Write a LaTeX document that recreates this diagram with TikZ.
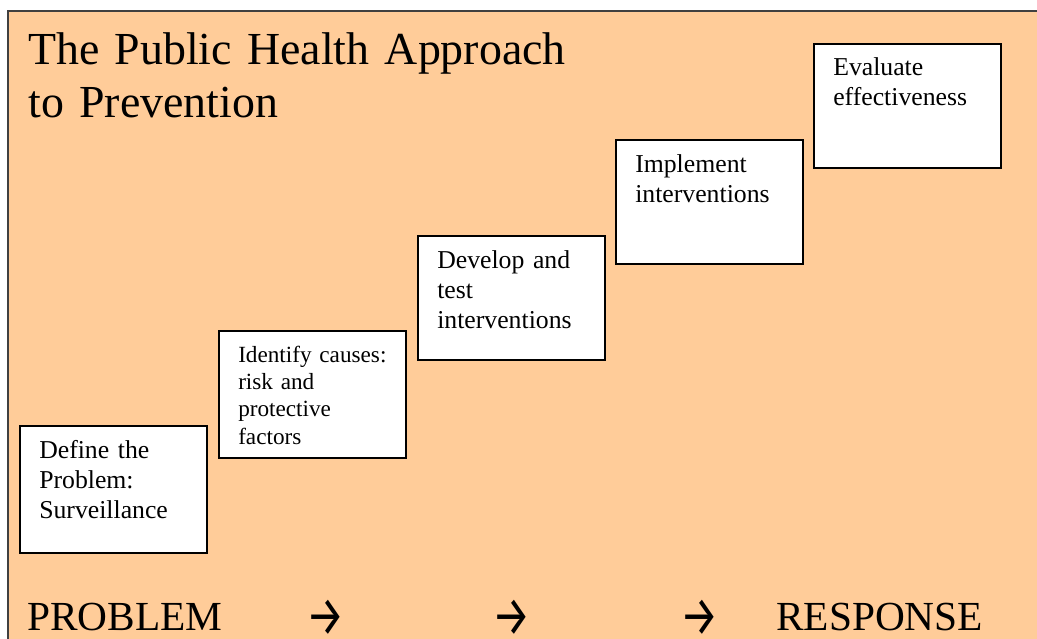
\documentclass[tikz,border=0pt]{standalone}
\usepackage{fontspec}
\setmainfont{Liberation Serif}
\newfontfamily\arrowfont{Fira Sans}
\usepackage{xcolor}
\usepackage{graphicx}
\usetikzlibrary{calc}
\definecolor{peach}{HTML}{FFCC99}

\begin{document}
\begin{tikzpicture}[x=0.75pt,y=-0.75pt,
    stepbox/.style={draw=black,line width=1.5pt,fill=white,anchor=north west,inner sep=0pt,minimum width=140.25pt,minimum height=93pt},
    steptext/.style={anchor=base west,inner sep=0pt,text width=135pt,align=left,font=\fontsize{19.3}{22.5}\selectfont},
    bottomtext/.style={anchor=base west,inner sep=0pt,font=\fontsize{31}{34}\selectfont},
    arrowtext/.style={anchor=center,inner sep=0pt,font=\arrowfont\fontsize{32}{34}\selectfont}]

                    \useasboundingbox (0,0) rectangle (1037,638);
                    \fill[peach] (8,11) rectangle (1045,650);
                    \draw[line width=1.5pt,black!75] (8,11) rectangle (1045,650);

                    \node[anchor=base west,inner sep=0pt,text width=560pt,align=left,font=\fontsize{34.4}{40}\selectfont] (title) at (28,64.5) {The Public Health Approach\\to Prevention};

                    \node[stepbox, minimum height=95pt] (1) at (19,425) {};
                    \node[stepbox, minimum height=95pt] (2) at (218,330) {};
                    \node[stepbox] (3) at (417,235) {};
                    \node[stepbox] (4) at (615,139) {};
                    \node[stepbox] (5) at (813,43) {};

                    \node[steptext] (1t) at ($(1.north west)+(20,33)$) {Define the\\Problem:\\Surveillance};
                    \node[steptext, font=\fontsize{17.4}{20.6}\selectfont] (2t) at ($(2.north west)+(20,32)$) {Identify causes:\\risk and\\protective\\factors};
                    \node[steptext] (3t) at ($(3.north west)+(20,33)$) {Develop and\\test\\interventions};
                    \node[steptext] (4t) at ($(4.north west)+(20,33)$) {Implement\\interventions};
                    \node[steptext] (5t) at ($(5.north west)+(20,33)$) {Evaluate\\effectiveness};

                    \node[bottomtext] (problem) at (27,630) {PROBLEM};
                    \node[arrowtext] (a1) at (326,617.5) {\scalebox{1}[1.3]{→}};
                    \node[arrowtext] (a2) at (512,617.5) {\scalebox{1}[1.3]{→}};
                    \node[arrowtext] (a3) at (700,617.5) {\scalebox{1}[1.3]{→}};
                    \node[bottomtext] (response) at (776,630) {RESPONSE};
                \end{tikzpicture}
\end{document}
